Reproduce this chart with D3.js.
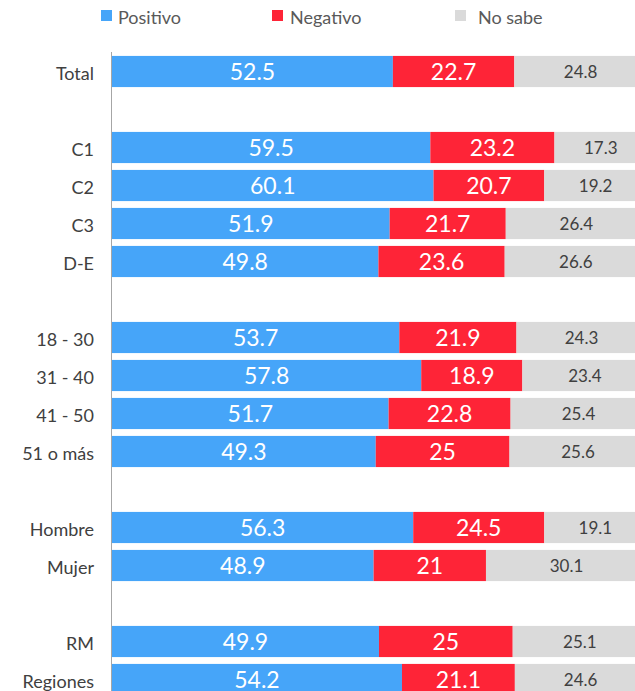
<!DOCTYPE html>
<html><head><meta charset="utf-8">
<script src="https://cdn.jsdelivr.net/npm/d3@7"></script>
<style>body{margin:0;background:#fff;}svg{display:block;}</style>
</head><body>
<svg id="c" width="635" height="691"></svg>
<script>
const categories = ["Total","", "C1","C2","C3","D-E","", "18 - 30","31 - 40","41 - 50","51 o más","", "Hombre","Mujer","", "RM","Regiones"];
const positivo = [52.5,null,59.5,60.1,51.9,49.8,null,53.7,57.8,51.7,49.3,null,56.3,48.9,null,49.9,54.2];
const negativo = [22.7,null,23.2,20.7,21.7,23.6,null,21.9,18.9,22.8,25,null,24.5,21,null,25,21.1];
const noSabe   = [24.8,null,17.3,19.2,26.4,26.6,null,24.3,23.4,25.4,25.6,null,19.1,30.1,null,25.1,24.6];
const seriesNames = ["Positivo","Negativo","No sabe"];
const colors = ["#46A5F9","#FE2437","#DADADA"];
const labelColors = ["#ffffff","#ffffff","#404040"];

const svg = d3.select("#c");
const font = "Lato, 'Open Sans', sans-serif";
const x = d3.scaleLinear().domain([0,100]).range([112,647]);
const y = d3.scaleBand().domain(d3.range(categories.length)).range([52.5, 52.5+38*categories.length]).paddingInner(0.18).paddingOuter(0.09);

const rows = categories.map((c,i)=>({i, cat:c, vals:[positivo[i],negativo[i],noSabe[i]]})).filter(r=>r.vals[0]!=null);

// bars
rows.forEach(r=>{
  let acc=0;
  r.vals.forEach((v,k)=>{
    const x0=x(acc), x1=x(acc+v);
    svg.append("rect").attr("x",x0).attr("y",y(r.i)).attr("width",x1-x0).attr("height",y.bandwidth()).attr("fill",colors[k]);
    svg.append("text").attr("x",(x0+x1)/2).attr("y",y(r.i)+y.bandwidth()/2)
      .attr("dy","0.38em").attr("text-anchor","middle")
      .attr("font-family",font).attr("font-size",k==2?17:23)
      .attr("fill",labelColors[k]).text(v);
    acc+=v;
  });
});

// axis
const axis = d3.axisLeft(y).tickSize(0).tickPadding(17).tickFormat(i=>categories[i]);
const g = svg.append("g").attr("transform","translate(111,0)").call(axis);
g.select(".domain").remove();
g.selectAll("text").attr("font-family",font).attr("font-size",18).attr("fill","#404040").attr("dy","0.45em");
svg.append("line").attr("x1",111.5).attr("x2",111.5).attr("y1",52).attr("y2",691).attr("stroke","#A6A6A6").attr("stroke-width",1);

// legend
const legX=[101,272,455], txtX=[118,290,478];
seriesNames.forEach((n,k)=>{
  svg.append("rect").attr("x",legX[k]).attr("y",10).attr("width",11).attr("height",11).attr("fill",colors[k]);
  svg.append("text").attr("x",txtX[k]).attr("y",24).attr("font-family",font).attr("font-size",18).attr("fill","#595959").text(n);
});
</script>
</body></html>
